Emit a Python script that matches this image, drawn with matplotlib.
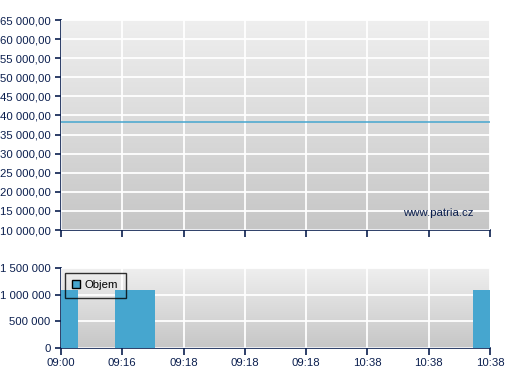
import matplotlib
matplotlib.use("Agg")
import matplotlib.pyplot as plt
import numpy as np
from matplotlib.patches import Patch

plt.rcParams['font.family'] = ['Liberation Sans', 'DejaVu Sans']

# ---- data ----
tick_labels = ["09:00", "09:16", "09:18", "09:18", "09:18", "10:38", "10:38", "10:38"]
price_level = 38300
price_ticks = [10000, 15000, 20000, 25000, 30000, 35000, 40000, 45000, 50000, 55000, 60000, 65000]
vol_pos = [0, 1.21, 7]
vol_values = [1080000, 1080000, 1080000]
vol_width = [0.56, 0.65, 0.56]
vol_ticks = [0, 500000, 1000000, 1500000]

NAVY = "#0b1f4f"
BLUE = "#46a6cf"

W, H = 507, 380
fig = plt.figure(figsize=(W / 100, H / 100), dpi=100)

def fig_rect(x0, y0, x1, y1):
    return [x0 / W, 1 - y1 / H, (x1 - x0) / W, (y1 - y0) / H]

def gradient(ax):
    g = np.linspace(0, 1, 256).reshape(-1, 1)
    cmap = matplotlib.colors.LinearSegmentedColormap.from_list("g", ["#efefef", "#c6c6c6"])
    ax.imshow(g, aspect="auto", cmap=cmap, origin="upper", extent=[0, 1, 0, 1],
              transform=ax.transAxes, zorder=0)

def style(ax):
    for s in ["top", "right"]:
        ax.spines[s].set_visible(False)
    for s in ["left", "bottom"]:
        ax.spines[s].set_color(NAVY)
        ax.spines[s].set_linewidth(1.2)
    ax.tick_params(axis="both", colors=NAVY, labelcolor=NAVY, labelsize=8.2, length=4, width=1.2, direction="out")
    ax.grid(True, color="white", linewidth=1.3, zorder=1)
    ax.set_axisbelow(False)

# ---- top price chart ----
ax1 = fig.add_axes(fig_rect(61, 20, 490, 230))
gradient(ax1)
style(ax1)
ax1.set_xlim(0, len(tick_labels) - 1)
ax1.set_ylim(10000, 65000)
ax1.set_yticks(price_ticks)
ax1.set_yticklabels([f"{v:,}".replace(",", " ") + ",00" for v in price_ticks])
ax1.set_xticks(range(len(tick_labels)))
ax1.set_xticklabels([])
ax1.tick_params(axis="x", length=5)
ax1.axhline(price_level, color=BLUE, linewidth=1.1, zorder=3)
ax1.text(0.962, 0.08, "www.patria.cz", transform=ax1.transAxes, ha="right", va="center",
         color=NAVY, fontsize=8.2, zorder=4)
for l in ax1.get_xgridlines() + ax1.get_ygridlines():
    l.set_zorder(1)

# ---- bottom volume chart ----
ax2 = fig.add_axes(fig_rect(61, 268, 490, 348))
gradient(ax2)
style(ax2)
ax2.set_xlim(0, len(tick_labels) - 1)
ax2.set_ylim(0, 1500000)
ax2.set_yticks(vol_ticks)
ax2.set_yticklabels([f"{v:,}".replace(",", " ") for v in vol_ticks])
ax2.set_xticks(range(len(tick_labels)))
ax2.set_xticklabels(tick_labels)
ax2.tick_params(axis="x", length=5, pad=2)
ax2.bar(vol_pos, vol_values, width=vol_width, color=BLUE, zorder=3, clip_on=True)
leg = ax2.legend(handles=[Patch(facecolor=BLUE, edgecolor="black", linewidth=1, label="Objem")],
                 loc="upper left", bbox_to_anchor=(4 / 429, 1 - 5 / 80), frameon=True, fancybox=False,
                 fontsize=8.2, handlelength=0.7, handleheight=0.7, handletextpad=0.4,
                 borderpad=0.65, borderaxespad=0)
leg.get_frame().set_edgecolor("black")
leg.get_frame().set_facecolor("none")
leg.get_frame().set_linewidth(1)
leg.set_zorder(5)

fig.savefig("out.png", dpi=100, facecolor="white")
